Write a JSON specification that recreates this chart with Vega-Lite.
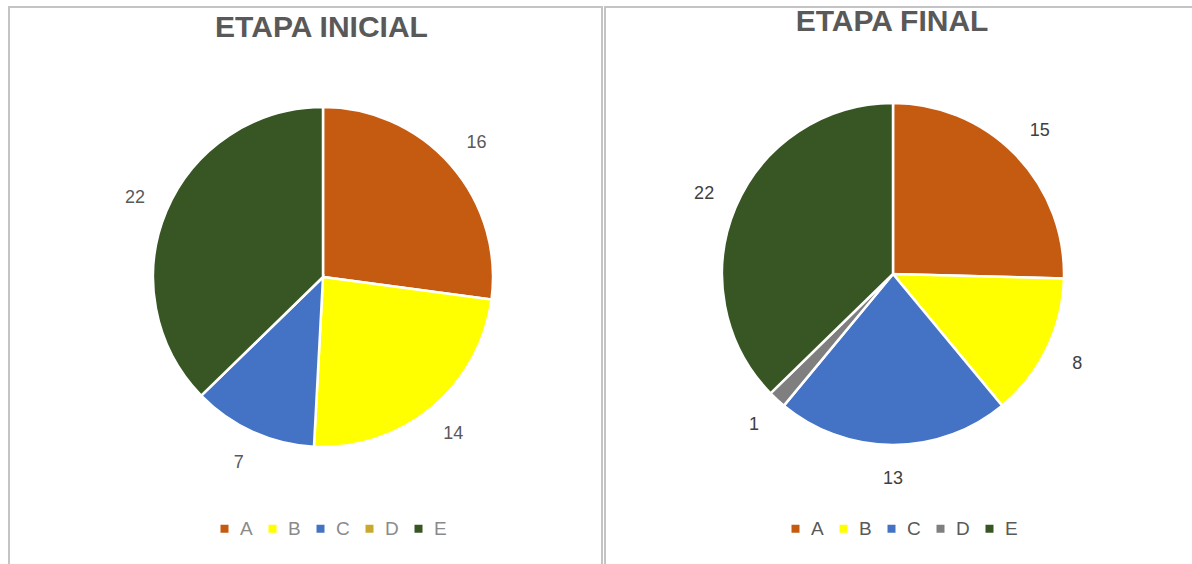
{
  "$schema": "https://vega.github.io/schema/vega-lite/v6.json",
  "background": "white",
  "padding": {"left": 8, "top": 6, "right": 0, "bottom": 0},
  "spacing": 1,
  "config": {
    "view": {"stroke": "#c4c4c4", "strokeWidth": 2},
    "font": "Liberation Sans"
  },
  "resolve": {"scale": {"color": "independent", "theta": "independent"}, "legend": {"color": "independent"}},
  "hconcat": [
    {
      "width": 593,
      "height": 570,
      "view": {"stroke": "#c4c4c4", "strokeWidth": 2},
      "title": {"text": "ETAPA INICIAL", "fontSize": 30, "fontWeight": "bold", "color": "#595959", "baseline": "alphabetic", "offset": -60, "dx": 16},
      "data": {"values": [
        {"serie": "A", "k": 1, "valor": 16},
        {"serie": "B", "k": 2, "valor": 14},
        {"serie": "C", "k": 3, "valor": 7},
        {"serie": "D", "k": 4, "valor": 0},
        {"serie": "E", "k": 5, "valor": 22}
      ]},
      "encoding": {
        "theta": {"field": "valor", "type": "quantitative", "stack": true},
        "order": {"field": "k", "type": "quantitative"}
      },
      "layer": [
        {
          "mark": {"type": "arc", "outerRadius": 170, "stroke": "white", "strokeWidth": 2.5, "x": 314, "y": 270},
          "encoding": {
            "color": {
              "field": "serie", "type": "nominal",
              "scale": {"domain": ["A", "B", "C", "D", "E"], "range": ["#C55A11", "#FFFF00", "#4472C4", "#C9A82E", "#375623"]},
              "legend": {"orient": "none", "legendX": 206, "legendY": 512, "direction": "horizontal", "title": null, "symbolType": "square", "symbolSize": 64, "symbolStrokeWidth": 0, "labelFontSize": 19, "labelColor": "#8a8a8a", "columnPadding": 10, "labelOffset": 6}
            }
          }
        },
        {
          "transform": [{"filter": "datum.valor > 0"}],
          "mark": {"type": "text", "radius": 204, "fontSize": 18, "color": "#595959", "x": 314, "y": 270},
          "encoding": {"text": {"field": "valor", "type": "quantitative"}}
        }
      ]
    },
    {
      "width": 590,
      "height": 570,
      "view": {"stroke": "#c4c4c4", "strokeWidth": 2},
      "title": {"text": "ETAPA FINAL", "fontSize": 30, "fontWeight": "bold", "color": "#595959", "baseline": "alphabetic", "offset": -54, "dx": -8},
      "data": {"values": [
        {"serie": "A", "k": 1, "valor": 15},
        {"serie": "B", "k": 2, "valor": 8},
        {"serie": "C", "k": 3, "valor": 13},
        {"serie": "D", "k": 4, "valor": 1},
        {"serie": "E", "k": 5, "valor": 22}
      ]},
      "encoding": {
        "theta": {"field": "valor", "type": "quantitative", "stack": true},
        "order": {"field": "k", "type": "quantitative"}
      },
      "layer": [
        {
          "mark": {"type": "arc", "outerRadius": 171, "stroke": "white", "strokeWidth": 2.5, "x": 288, "y": 267},
          "encoding": {
            "color": {
              "field": "serie", "type": "nominal",
              "scale": {"domain": ["A", "B", "C", "D", "E"], "range": ["#C55A11", "#FFFF00", "#4472C4", "#7F7F7F", "#375623"]},
              "legend": {"orient": "none", "legendX": 181, "legendY": 512, "direction": "horizontal", "title": null, "symbolType": "square", "symbolSize": 64, "symbolStrokeWidth": 0, "labelFontSize": 19, "labelColor": "#595959", "columnPadding": 10, "labelOffset": 6}
            }
          }
        },
        {
          "transform": [{"filter": "datum.valor > 0"}],
          "mark": {"type": "text", "radius": 205, "fontSize": 18, "color": "#404040", "x": 288, "y": 267},
          "encoding": {"text": {"field": "valor", "type": "quantitative"}}
        }
      ]
    }
  ]
}
